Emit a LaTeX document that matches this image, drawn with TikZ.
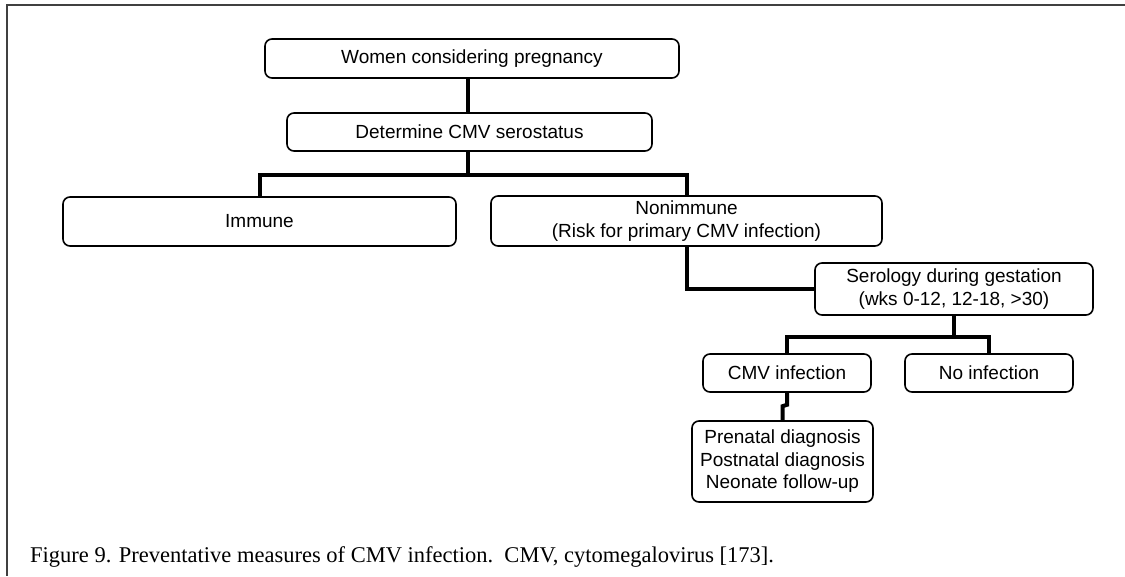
\documentclass[tikz,border=0pt]{standalone}
\usepackage{fontspec}
\setmainfont{Liberation Serif}
\newfontfamily\arialfont{Liberation Sans}
\usetikzlibrary{calc}
\tikzset{
    stage/.style = {
        draw,
        rounded corners=7pt,
        line width=1.6pt,
        align=center,
        inner sep=0pt,
        font=\arialfont\fontsize{19}{22.5}\selectfont,
        },
    link/.style = {
        line width=4pt,
        },
    frame line/.style = {
        draw=black!75,
        line width=2pt,
        },
    caption/.style = {
        anchor=base west,
        inner sep=0pt,
        font=\fontsize{22.5}{27}\selectfont,
        },
}

\begin{document}
\begin{tikzpicture}[x=1pt,y=-1pt]
    \useasboundingbox (0,0) rectangle (1125,576);
    \draw[frame line] (1125,5) -- (7,5) -- (7,576);

    \node[stage, minimum width=414pt, minimum height=39pt] (women) at (472,58.5) {Women considering pregnancy};
    \node[stage, minimum width=365pt, minimum height=38pt] (sero) at (469.5,132) {Determine CMV serostatus};
    \node[stage, minimum width=393pt, minimum height=49pt] (immune) at (259.5,221.5) {Immune};
    \node[stage, minimum width=391pt, minimum height=50pt] (nonimmune) at (686.5,221) {Nonimmune\\(Risk for primary CMV infection)};
    \node[stage, minimum width=278pt, minimum height=52pt] (gest) at (954,289) {Serology during gestation\\(wks 0-12, 12-18, >30)};
    \node[stage, minimum width=168pt, minimum height=38pt] (infect) at (787,373) {CMV infection};
    \node[stage, minimum width=168pt, minimum height=38pt] (noinfect) at (989,373) {No infection};
    \node[stage, minimum width=181pt, minimum height=81pt] (followup) at (782.5,461.5) {Prenatal diagnosis\\Postnatal diagnosis\\Neonate follow-up};

    \coordinate (fork1) at ($(sero.south)+(-2,23)$);
    \coordinate (fork2) at ($(gest.south)+(0,21)$);

    \draw[link] (women.south -| fork1) -- (sero.north -| fork1);
    \draw[link] (sero.south -| fork1) -- (fork1);
    \draw[link] (immune.north) |- (fork1) -| (nonimmune.north);
    \draw[link] (nonimmune.south) |- (gest.west);
    \draw[link] (gest.south) -- (fork2);
    \draw[link] (infect.north) |- (fork2) -| (noinfect.north);
    \draw[link] (infect.south) -- ++(0,12) -- ($(followup.north)+(0,-14)$) -- (followup.north);

    \node[caption] (cap) at (30,562) {Figure 9. Preventative measures of CMV infection.\ \ CMV, cytomegalovirus [173].};
\end{tikzpicture}
\end{document}
